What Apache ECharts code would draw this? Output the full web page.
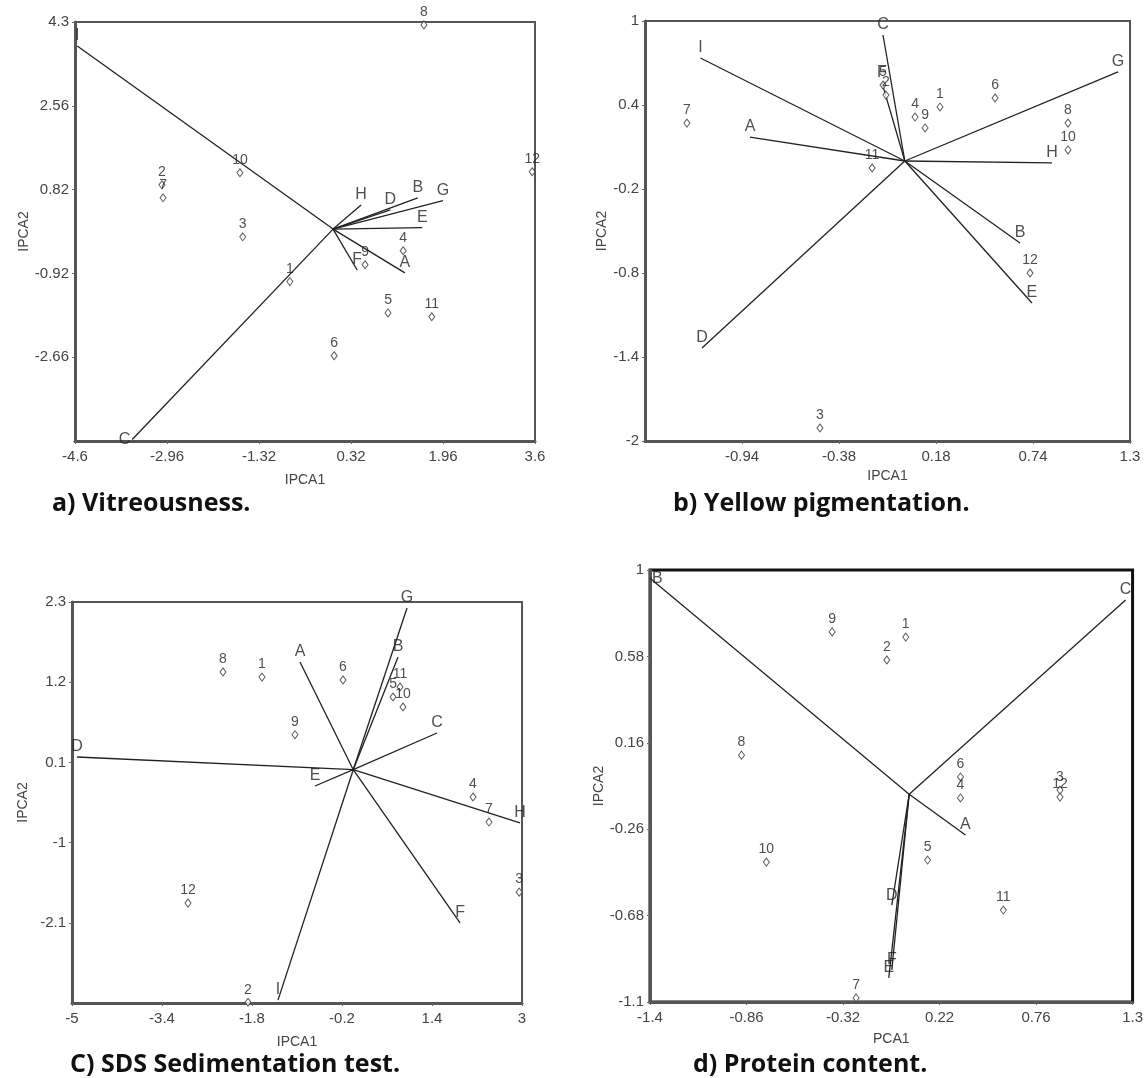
<!DOCTYPE html>
<html><head><meta charset="utf-8">
<script src="https://cdn.jsdelivr.net/npm/echarts@6/dist/echarts.min.js"></script>
<style>html,body{margin:0;padding:0;background:#fff}#c{width:1146px;height:1078px}</style>
</head><body><div id="c"></div>
<script>
// ---------- Panel a) Vitreousness ----------
const aVecNames = ['I','C','H','D','B','G','E','F','A'];
const aVecX = [-4.56,-3.58,0.50,1.02,1.51,1.96,1.59,0.43,1.28];
const aVecY = [3.80,-4.37,0.50,0.40,0.65,0.59,0.03,-0.85,-0.91];
const aPtNames = ['1','2','3','4','5','6','7','8','9','10','11','12'];
const aPtX = [-0.77,-3.05,-1.61,1.25,0.98,0.02,-3.03,1.62,0.57,-1.66,1.76,3.55];
const aPtY = [-1.09,0.92,-0.16,-0.45,-1.74,-2.63,0.65,4.24,-0.74,1.17,-1.82,1.19];
const aXTicks = [-4.6,-2.96,-1.32,0.32,1.96,3.6];
const aYTicks = [-4.4,-2.66,-0.92,0.82,2.56,4.3];
const aOrigin = [0,0];

// ---------- Panel b) Yellow pigmentation ----------
const bVecNames = ['I','A','C','F','G','H','B','E','D'];
const bVecX = [-1.18,-0.894,-0.126,-0.132,1.231,0.85,0.665,0.734,-1.171];
const bVecY = [0.736,0.171,0.90,0.56,0.636,-0.014,-0.586,-1.014,-1.336];
const bPtNames = ['1','2','3','4','5','6','7','8','9','10','11','12'];
const bPtX = [0.203,-0.109,-0.49,0.059,-0.126,0.521,-1.258,0.942,0.117,0.942,-0.189,0.723];
const bPtY = [0.386,0.471,-1.907,0.314,0.543,0.45,0.271,0.271,0.236,0.079,-0.05,-0.80];
const bXTicks = [-1.5,-0.94,-0.38,0.18,0.74,1.3];
const bYTicks = [-2,-1.4,-0.8,-0.2,0.4,1];
const bOrigin = [0,0];

// ---------- Panel c) SDS Sedimentation test ----------
const cVecNames = ['D','A','G','B','C','E','H','F','I'];
const cVecX = [-4.91,-0.947,0.956,0.796,1.489,-0.68,2.964,1.898,-1.338];
const cVecY = [0.174,1.477,2.218,1.546,0.503,-0.224,-0.73,-2.10,-3.16];
const cPtNames = ['1','2','3','4','5','6','7','8','9','10','11','12'];
const cPtX = [-1.622,-1.871,2.95,2.129,0.707,-0.182,2.413,-2.316,-1.036,0.884,0.831,-2.938];
const cPtY = [1.27,-3.19,-1.68,-0.375,0.997,1.23,-0.718,1.34,0.48,0.86,1.134,-1.83];
const cXTicks = [-5,-3.4,-1.8,-0.2,1.4,3];
const cYTicks = [-3.2,-2.1,-1,0.1,1.2,2.3];
const cOrigin = [0,0];

// ---------- Panel d) Protein content ----------
const dVecNames = ['B','C','A','D','F','E'];
const dVecX = [-1.40,1.261,0.365,-0.047,-0.047,-0.064];
const dVecY = [0.96,0.854,-0.288,-0.629,-0.944,-0.983];
const dPtNames = ['1','2','3','4','5','6','7','8','9','10','11','12'];
const dPtX = [0.031,-0.075,0.894,0.337,0.153,0.337,-0.247,-0.888,-0.381,-0.749,0.577,0.894];
const dPtY = [0.674,0.5625,-0.07,-0.108,-0.41,-0.006,-1.08,0.10,0.699,-0.42,-0.653,-0.104];
const dXTicks = [-1.4,-0.86,-0.32,0.22,0.76,1.3];
const dYTicks = [-1.1,-0.68,-0.26,0.16,0.58,1];
const dOrigin = [0.05,-0.09];

const titles = ['a) Vitreousness.','b) Yellow pigmentation.','C) SDS Sedimentation test.','d) Protein content.'];
const xNames = ['IPCA1','IPCA1','IPCA1','PCA1'];
const yNames = ['IPCA2','IPCA2','IPCA2','IPCA2'];

// ---------- layout / style (not data) ----------
const layout = [
  {grid:{left:75,top:22,width:460,height:419}, xGap:24, yGap:44, hideXMin:false, hideYMin:true, frame:'#555', title:{left:47,top:486}},
  {grid:{left:645,top:21,width:485,height:420}, xGap:20, yGap:36, hideXMin:true, hideYMin:false, frame:'#555', title:{left:668,top:486}},
  {grid:{left:72,top:602,width:450,height:401}, xGap:24, yGap:42, hideXMin:false, hideYMin:true, frame:'#555', title:{left:65,top:1047}},
  {grid:{left:650,top:570,width:485,height:432}, xGap:22, yGap:36, hideXMin:false, hideYMin:false, frame:'#111', title:{left:688,top:1047}}
];
const vecLabelPos = [{C:'left'},{},{},{B:'right'}];

const panels = [
  {vn:aVecNames,vx:aVecX,vy:aVecY,pn:aPtNames,px:aPtX,py:aPtY,xt:aXTicks,yt:aYTicks,o:aOrigin},
  {vn:bVecNames,vx:bVecX,vy:bVecY,pn:bPtNames,px:bPtX,py:bPtY,xt:bXTicks,yt:bYTicks,o:bOrigin},
  {vn:cVecNames,vx:cVecX,vy:cVecY,pn:cPtNames,px:cPtX,py:cPtY,xt:cXTicks,yt:cYTicks,o:cOrigin},
  {vn:dVecNames,vx:dVecX,vy:dVecY,pn:dPtNames,px:dPtX,py:dPtY,xt:dXTicks,yt:dYTicks,o:dOrigin}
];

const FONT = 'Liberation Sans';
const fmt = v => String(parseFloat((+v).toFixed(2)));
const grids=[], xAxes=[], yAxes=[], series=[], titleArr=[];

panels.forEach((p,i)=>{
  const L = layout[i];
  const thick = i===3 ? 3 : 2;
  grids.push(Object.assign({show:true, borderColor:L.frame, borderWidth:thick, containLabel:false}, L.grid));
  const axCommon = {
    gridIndex:i, type:'value', nameLocation:'middle',
    nameTextStyle:{fontFamily:FONT,fontSize:14,color:'#444'},
    axisLine:{show:true,onZero:false,lineStyle:{color:'#555',width:3}},
    axisTick:{show:true,length:3,lineStyle:{color:'#666',width:1}},
    splitLine:{show:false}
  };
  xAxes.push(Object.assign({}, axCommon, {
    min:p.xt[0], max:p.xt[p.xt.length-1], interval:+(p.xt[1]-p.xt[0]).toFixed(4),
    name:xNames[i], nameGap:L.xGap+8,
    axisLabel:{fontFamily:FONT,fontSize:15,color:'#444',margin:8,formatter:fmt,showMinLabel:!L.hideXMin,showMaxLabel:true}
  }));
  yAxes.push(Object.assign({}, axCommon, {
    min:p.yt[0], max:p.yt[p.yt.length-1], interval:+(p.yt[1]-p.yt[0]).toFixed(4),
    name:yNames[i], nameGap:L.yGap,
    axisLabel:{fontFamily:FONT,fontSize:15,color:'#444',margin:6,formatter:fmt,showMinLabel:!L.hideYMin,showMaxLabel:true}
  }));
  series.push({
    type:'lines', coordinateSystem:'cartesian2d', xAxisIndex:i, yAxisIndex:i,
    silent:true, animation:false, symbol:'none',
    lineStyle:{color:'#222',width:1.3,opacity:1},
    data:p.vn.map((n,k)=>({coords:[p.o,[p.vx[k],p.vy[k]]]}))
  });
  series.push({
    type:'scatter', xAxisIndex:i, yAxisIndex:i, symbolSize:0, clip:false, animation:false, silent:true,
    data:p.vn.map((n,k)=>({value:[p.vx[k],p.vy[k]], name:n,
      label:{position:vecLabelPos[i][n]||'top'}})),
    label:{show:true, formatter:'{b}', fontFamily:FONT, fontSize:16, color:'#222', distance:2}
  });
  series.push({
    type:'scatter', xAxisIndex:i, yAxisIndex:i, symbol:'diamond', symbolSize:[6,8], clip:false, animation:false, silent:true,
    itemStyle:{color:'#fff',borderColor:'#333',borderWidth:1},
    data:p.pn.map((n,k)=>({value:[p.px[k],p.py[k]], name:n})),
    label:{show:true, position:'top', formatter:'{b}', fontFamily:FONT, fontSize:14, color:'#222', distance:1}
  });
  titleArr.push({text:titles[i], left:L.title.left, top:L.title.top,
    textStyle:{fontFamily:'Open Sans', fontWeight:'bold', fontSize:25, color:'#111'}});
});

const chart = echarts.init(document.getElementById('c'), null, {renderer:'canvas'});
chart.setOption({animation:false, backgroundColor:'#fff', title:titleArr, grid:grids, xAxis:xAxes, yAxis:yAxes, series:series});
</script></body></html>
